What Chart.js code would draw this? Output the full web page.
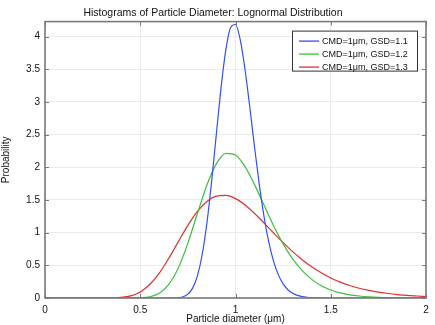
<!DOCTYPE html>
<html>
<head>
<meta charset="utf-8">
<script src="https://cdn.jsdelivr.net/npm/chart.js@4.4.0/dist/chart.umd.min.js"></script>
<style>
  body { margin: 0; background: #fff; }
  #wrap { width: 435px; height: 325px; }
</style>
</head>
<body>
<div id="wrap"><canvas id="psdChart" width="435" height="325"></canvas></div>
<script>
// diameters (um) and probability values
const diamWide = [0, 0.05, 0.1, 0.15, 0.2, 0.25, 0.3, 0.35, 0.4, 0.45, 0.5, 0.55, 0.6, 0.65, 0.7, 0.75, 0.8, 0.85, 0.9, 0.95,
  1.0, 1.05, 1.1, 1.15, 1.2, 1.25, 1.3, 1.35, 1.4, 1.45, 1.5, 1.55, 1.6, 1.65, 1.7, 1.75, 1.8, 1.85, 1.9, 1.95, 2.0];
const probGsd13 = [0, 0, 0, 0, 0, 0, 0.0001, 0.0015, 0.0085, 0.033, 0.093, 0.206, 0.381, 0.608, 0.862, 1.111, 1.324, 1.477, 1.559, 1.570,
  1.521, 1.423, 1.294, 1.147, 0.995, 0.847, 0.709, 0.586, 0.477, 0.385, 0.307, 0.243, 0.191, 0.149, 0.116, 0.089, 0.069, 0.053, 0.040, 0.031, 0.023];
const probGsd12 = [0, 0, 0, 0, 0, 0, 0, 0, 0, 0.0003, 0.0032, 0.018, 0.072, 0.207, 0.461, 0.840, 1.293, 1.730, 2.057, 2.214,
  2.188, 2.011, 1.735, 1.418, 1.106, 0.828, 0.598, 0.418, 0.285, 0.189, 0.123, 0.079, 0.049, 0.031, 0.019, 0.011, 0.0067, 0.004, 0.0023, 0.0014, 0.0008];

const diamNarrow = [0, 0.5, 0.6, 0.65, 0.675, 0.7, 0.725, 0.75, 0.775, 0.8, 0.825, 0.85, 0.875, 0.9, 0.925, 0.95, 0.975,
  1.0, 1.025, 1.05, 1.075, 1.1, 1.125, 1.15, 1.175, 1.2, 1.225, 1.25, 1.275, 1.3, 1.325, 1.35, 1.375, 1.4, 1.45, 1.5, 1.6, 2.0];
const probGsd11 = [0, 0, 0, 0.0002, 0.0013, 0.0054, 0.0195, 0.059, 0.151, 0.338, 0.662, 1.151, 1.793, 2.524, 3.239, 3.812, 4.144,
  4.186, 3.949, 3.497, 2.920, 2.308, 1.734, 1.242, 0.851, 0.560, 0.354, 0.216, 0.127, 0.073, 0.040, 0.022, 0.0115, 0.0059, 0.0014, 0.0003, 0, 0];

const seriesLabels = ['CMD=1\u03bcm, GSD=1.1', 'CMD=1\u03bcm, GSD=1.2', 'CMD=1\u03bcm, GSD=1.3'];
const seriesColors = ['#3050f0', '#3cbf3c', '#e03030'];
const xTicks = [0, 0.5, 1, 1.5, 2];
const yTicks = [0, 0.5, 1, 1.5, 2, 2.5, 3, 3.5, 4];

const FONT = 'Liberation Sans, Arial, sans-serif';

function toPoints(xs, ys) {
  return xs.map((x, i) => ({ x: x, y: ys[i] }));
}

// frame + inward tick marks on all four sides
const framePlugin = {
  id: 'frame',
  afterDraw(chart) {
    const { ctx, chartArea: a, scales } = chart;
    ctx.save();
    ctx.strokeStyle = '#7a7a7a';
    ctx.lineWidth = 1;
    ctx.beginPath();
    xTicks.forEach(v => {
      const px = Math.round(scales.x.getPixelForValue(v)) + 0.5;
      ctx.moveTo(px, a.bottom); ctx.lineTo(px, a.bottom - 4);
      ctx.moveTo(px, a.top); ctx.lineTo(px, a.top + 4);
    });
    yTicks.forEach(v => {
      const py = Math.round(scales.y.getPixelForValue(v)) + 0.5;
      ctx.moveTo(a.left, py); ctx.lineTo(a.left + 4, py);
      ctx.moveTo(a.right, py); ctx.lineTo(a.right - 4, py);
    });
    ctx.stroke();
    ctx.lineWidth = 1.6;
    ctx.strokeRect(a.left, a.top, a.right - a.left, a.bottom - a.top);
    ctx.restore();
  }
};

// boxed legend in the upper right corner of the plot
const legendBoxPlugin = {
  id: 'legendBox',
  afterDraw(chart) {
    const { ctx, chartArea: a } = chart;
    const w = 125, h = 40;
    const left = a.right - 134, top = a.top + 9;
    ctx.save();
    ctx.fillStyle = '#fff';
    ctx.fillRect(left, top, w, h);
    ctx.strokeStyle = '#333';
    ctx.lineWidth = 1;
    ctx.strokeRect(left + 0.5, top + 0.5, w, h);
    ctx.font = '9px ' + FONT;
    ctx.textBaseline = 'middle';
    chart.data.datasets.forEach((ds, i) => {
      const y = top + 10.5 + i * 13;
      ctx.strokeStyle = ds.borderColor;
      ctx.lineWidth = 1.3;
      ctx.beginPath();
      ctx.moveTo(left + 7, y); ctx.lineTo(left + 27, y);
      ctx.stroke();
      ctx.fillStyle = '#111';
      ctx.fillText(ds.label, left + 30, y);
    });
    ctx.restore();
  }
};

const datasets = [
  { label: seriesLabels[0], data: toPoints(diamNarrow, probGsd11), borderColor: seriesColors[0] },
  { label: seriesLabels[1], data: toPoints(diamWide, probGsd12), borderColor: seriesColors[1] },
  { label: seriesLabels[2], data: toPoints(diamWide, probGsd13), borderColor: seriesColors[2] }
].map(d => Object.assign(d, { borderWidth: 1.2, pointRadius: 0, fill: false, cubicInterpolationMode: 'monotone' }));

new Chart(document.getElementById('psdChart').getContext('2d'), {
  type: 'line',
  data: { datasets: datasets },
  options: {
    responsive: false,
    animation: false,
    layout: { padding: { left: 0, right: 9, top: 0, bottom: 0 } },
    plugins: {
      legend: { display: false },
      tooltip: { enabled: false },
      title: {
        display: true,
        text: 'Histograms of Particle Diameter: Lognormal Distribution',
        color: '#111',
        font: { family: FONT, size: 10.5, weight: 'normal' },
        padding: { top: 7, bottom: 2 }
      }
    },
    scales: {
      x: {
        type: 'linear',
        min: 0,
        max: 2,
        afterBuildTicks: s => { s.ticks = xTicks.map(v => ({ value: v })); },
        afterFit: s => { s.height = 27; },
        grid: { color: '#ebebeb', drawTicks: false },
        border: { display: false },
        ticks: { color: '#111', font: { family: FONT, size: 10 }, padding: 6, maxRotation: 0, callback: v => String(v) },
        title: { display: true, text: 'Particle diameter (\u03bcm)', color: '#111', font: { family: FONT, size: 10 }, padding: 0 }
      },
      y: {
        min: 0,
        max: 4.23,
        afterBuildTicks: s => { s.ticks = yTicks.map(v => ({ value: v })); },
        afterFit: s => { s.width = 45; },
        grid: { color: '#ebebeb', drawTicks: false },
        border: { display: false },
        ticks: { color: '#111', font: { family: FONT, size: 10 }, padding: 5, callback: v => String(v) },
        title: { display: true, text: 'Probability', color: '#111', font: { family: FONT, size: 10 }, padding: 0 }
      }
    }
  },
  plugins: [framePlugin, legendBoxPlugin]
});
</script>
</body>
</html>
